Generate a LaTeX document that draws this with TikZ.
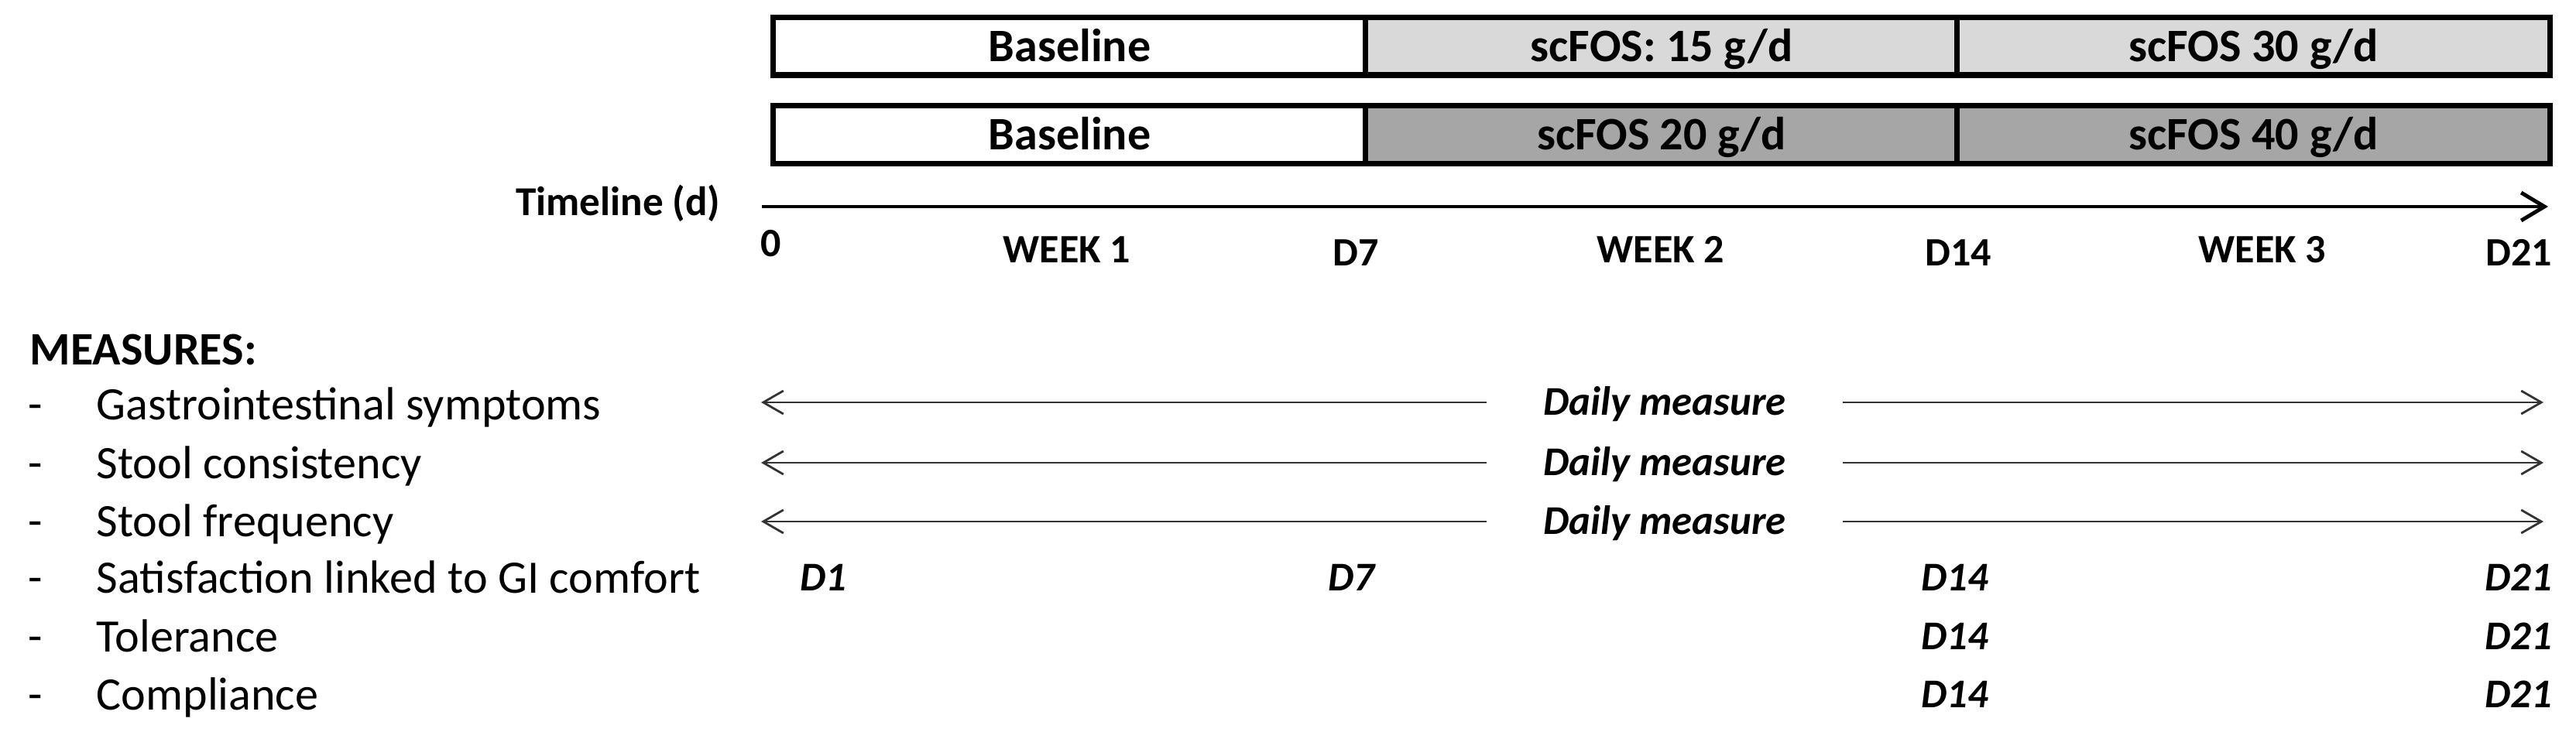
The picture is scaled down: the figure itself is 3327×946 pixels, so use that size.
\documentclass[tikz,border=0pt]{standalone}
\usepackage{fontspec}
\setmainfont{Carlito}
\usetikzlibrary{arrows.meta}
\definecolor{lightfill}{HTML}{D9D9D9}
\definecolor{darkfill}{HTML}{A6A6A6}
\begin{document}
\begin{tikzpicture}[x=0.01cm, y=-0.01cm,
  every node/.style={inner sep=0pt},
  phase/.style={draw=black, line width=2pt, minimum height=0.74cm,
    text height=0.386cm, text depth=0pt,
    font=\fontsize{17.1}{20}\selectfont\bfseries},
  big/.style={text height=0.386cm, text depth=0pt, font=\fontsize{17.1}{20}\selectfont},
  bigbold/.style={big, font=\fontsize{17.1}{20}\selectfont\bfseries},
  tick/.style={text height=0.335cm, text depth=0pt, font=\fontsize{14.8}{18}\selectfont\bfseries},
  when/.style={text height=0.335cm, text depth=0pt, font=\fontsize{15}{18}\selectfont\bfseries\itshape},
  daily/.style={when, inner xsep=0.73cm},
  measarrow/.style={draw=black!80, line width=0.8pt, -{Straight Barb[length=0.26cm,width=0.3cm]}},
]
\useasboundingbox (0,0) rectangle (3327,946);

% phase boxes
\node[phase, minimum width=7.65cm, fill=white] (b1) at (1381.5,60) {Baseline};
\node[phase, minimum width=7.64cm, fill=lightfill] (s15) at (2146,60) {scFOS: 15 g/d};
\node[phase, minimum width=7.65cm, fill=lightfill] (s30) at (2910.5,60) {scFOS 30 g/d};
\node[phase, minimum width=7.65cm, fill=white] (b2) at (1381.5,174) {Baseline};
\node[phase, minimum width=7.64cm, fill=darkfill] (s20) at (2146,174) {scFOS 20 g/d};
\node[phase, minimum width=7.65cm, fill=darkfill] (s40) at (2910.5,174) {scFOS 40 g/d};

% timeline
\node[tick, anchor=east, font=\fontsize{15.1}{18}\selectfont\bfseries] (tl) at (931,262) {Timeline (d)};
\coordinate (tl0) at (984,267);
\coordinate (tl1) at (3291,267);
\draw[line width=1.4pt, -{Straight Barb[length=0.3cm,width=0.36cm]}] (tl0) -- (tl1);

\node[tick] (d0) at (996,315) {0};
\node[tick] (w1) at (1378,323) {WEEK 1};
\node[tick] (d7) at (1751,327) {D7};
\node[tick] (w2) at (2145,323) {WEEK 2};
\node[tick] (d14) at (2529,327) {D14};
\node[tick] (w3) at (2922,323) {WEEK 3};
\node[tick, anchor=east] (d21) at (3297,327) {D21};

% measures
\node[bigbold, anchor=west] (meas) at (38,452) {MEASURES:};

\foreach \y/\lab/\txt in {523/m1/Gastrointestinal symptoms, 599/m2/Stool consistency,
  674/m3/Stool frequency, 747/m4/Satisfaction linked to GI comfort,
  823/m5/Tolerance, 898/m6/Compliance}{
  \node[big] (\lab d) at (46,\y) {-};
  \node[big, anchor=west] (\lab) at (124,\y) {\txt};
}

% daily measure arrows
\foreach \y/\lab in {520/a1, 598/a2, 674/a3}{
  \node[daily] (\lab) at (2150,\y) {Daily measure};
  \coordinate (\lab l) at (983,\y);
  \coordinate (\lab r) at (3285,\y);
  \draw[measarrow] (\lab.west) -- (\lab l);
  \draw[measarrow] (\lab.east) -- (\lab r);
}

% timepoints
\node[when] (p41) at (1063,747) {D1};
\node[when] (p47) at (1745,747) {D7};
\node[when] (p414) at (2525,747) {D14};
\node[when, anchor=east] (p421) at (3297,747) {D21};
\node[when] (p514) at (2525,823) {D14};
\node[when, anchor=east] (p521) at (3297,823) {D21};
\node[when] (p614) at (2525,898) {D14};
\node[when, anchor=east] (p621) at (3297,898) {D21};
\end{tikzpicture}
\end{document}
